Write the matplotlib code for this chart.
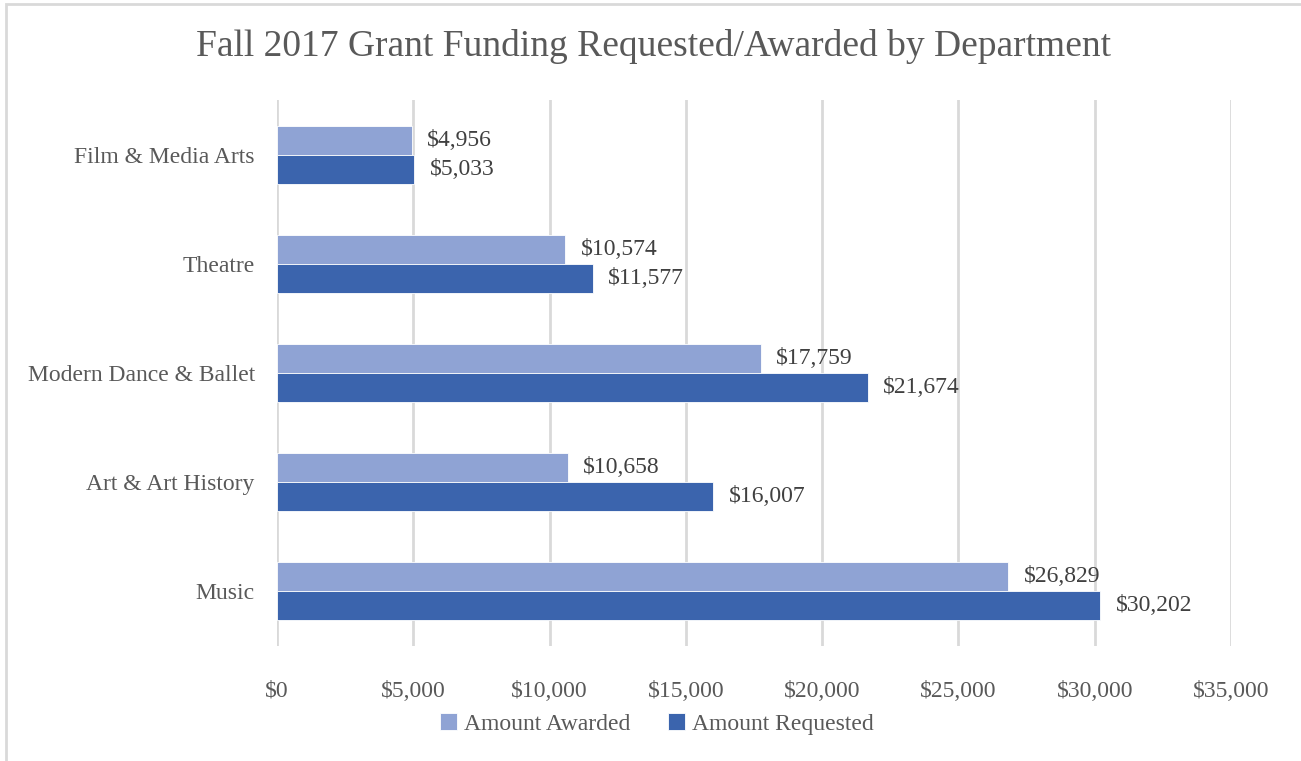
import numpy as np
import matplotlib.pyplot as plt
from matplotlib.patches import Rectangle

departments = ['Music', 'Art & Art History', 'Modern Dance & Ballet', 'Theatre', 'Film & Media Arts']
awarded = [26829, 10658, 17759, 10574, 4956]
requested = [30202, 16007, 21674, 11577, 5033]
xticks = [0, 5000, 10000, 15000, 20000, 25000, 30000, 35000]

plt.rcParams['font.family'] = ['Liberation Serif', 'DejaVu Serif']
txt = '#595959'
c_aw = '#8FA3D4'
c_rq = '#3B64AD'

fig = plt.figure(figsize=(13.01, 7.61), dpi=100)
ax = fig.add_axes([277/1301, 1-646/761, (1231-277)/1301, (646-100)/761])

y = np.arange(len(departments))
h = 0.265
ax.barh(y + h/2, awarded, height=h, color=c_aw, edgecolor='white', linewidth=0.6, label='Amount Awarded', zorder=3)
ax.barh(y - h/2, requested, height=h, color=c_rq, edgecolor='white', linewidth=0.6, label='Amount Requested', zorder=3)

for i in range(len(departments)):
    ax.text(awarded[i] + 560, y[i] + h/2, '${:,}'.format(awarded[i]), va='center', ha='left', fontsize=17, color='#404040')
    ax.text(requested[i] + 560, y[i] - h/2, '${:,}'.format(requested[i]), va='center', ha='left', fontsize=17, color='#404040')

ax.set_xlim(0, 35000)
ax.set_ylim(-0.5, 4.5)
ax.set_xticks(xticks)
ax.set_xticklabels(['${:,}'.format(v) for v in xticks], fontsize=17, color=txt)
ax.set_yticks(y)
ax.set_yticklabels(departments, fontsize=17, color=txt)
ax.tick_params(length=0, pad=25, axis='x')
ax.tick_params(length=0, pad=16, axis='y')
ax.grid(axis='x', color='#d9d9d9', linewidth=2, zorder=0)
for s in ax.spines.values():
    s.set_visible(False)

fig.text(653/1301, 1-47/761, 'Fall 2017 Grant Funding Requested/Awarded by Department', ha='center', va='center', fontsize=27, color=txt)

handles, labels = ax.get_legend_handles_labels()
fig.legend(handles, labels, loc='center', bbox_to_anchor=(657/1301, 1-724/761), ncol=2, frameon=False,
           fontsize=17, labelcolor=txt, handlelength=0.7, handleheight=0.7, handletextpad=0.3, columnspacing=1.6)

fig.patches.append(Rectangle((6/1301, -0.05), 1.2, 1.05 - 4/761, transform=fig.transFigure, fill=False,
                             edgecolor='#d9d9d9', linewidth=2))

fig.savefig('out.png', dpi=100)
